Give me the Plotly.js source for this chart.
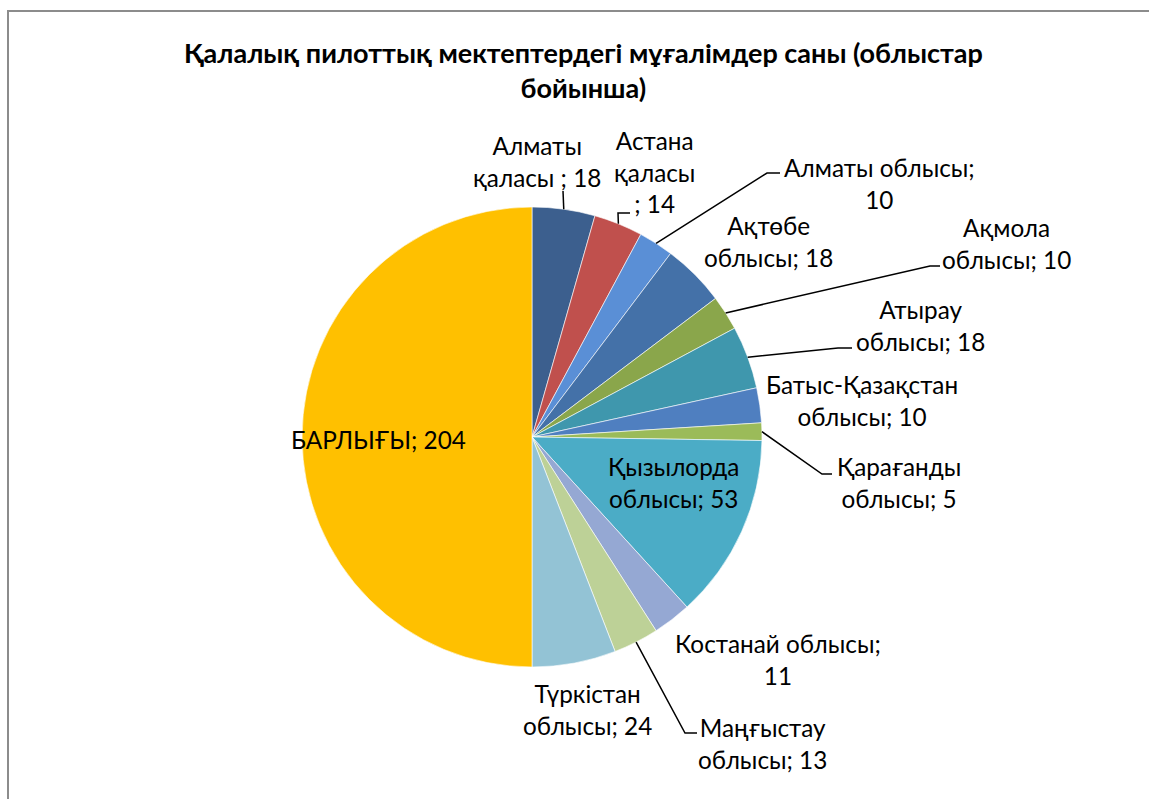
<!DOCTYPE html>
<html>
<head>
<meta charset="utf-8">
<script src="https://cdn.plot.ly/plotly-3.0.1.min.js"></script>
<style>
  html, body { margin: 0; padding: 0; background: #fff; }
  #frame { position: absolute; left: 7px; top: 10px; width: 1142px; height: 789px;
           border-left: 2px solid #8c8c8c; border-top: 2px solid #8c8c8c; }
  #chart { position: absolute; left: 0; top: 0; width: 1149px; height: 799px; }
</style>
</head>
<body>
<div id="frame"></div>
<div id="chart"></div>
<script>
// ---- data ----
const regions = [
  "Алматы қаласы", "Астана қаласы", "Алматы облысы", "Ақтөбе облысы",
  "Ақмола облысы", "Атырау облысы", "Батыс-Қазақстан облысы", "Қарағанды облысы",
  "Қызылорда облысы", "Костанай облысы", "Маңғыстау облысы", "Түркістан облысы",
  "БАРЛЫҒЫ"
];
const teachers = [18, 14, 10, 18, 10, 18, 10, 5, 53, 11, 13, 24, 204];
const labelTexts = [
  "Алматы<br>қаласы ; 18", "Астана<br>қаласы<br>; 14", "Алматы облысы;<br>10",
  "Ақтөбе<br>облысы; 18", "Ақмола<br>облысы; 10", "Атырау<br>облысы; 18",
  "Батыс-Қазақстан<br>облысы; 10", "Қарағанды<br>облысы; 5", "Қызылорда<br>облысы; 53",
  "Костанай облысы;<br>11", "Маңғыстау<br>облысы; 13", "Түркістан<br>облысы; 24",
  "БАРЛЫҒЫ; 204"
];
const sliceColors = [
  "#3C5F8E", "#C0504D", "#5A8FD6", "#4471A8", "#8AA64B", "#3F97AD", "#4F7FC0",
  "#9BBB59", "#4BACC6", "#95A8D3", "#BDD197", "#93C3D5", "#FFC000"
];

// ---- layout helpers (pixel positions) ----
const W = 1149, H = 799;
const cx = 532, cy = 437, R = 230;
const px = x => x / W;
const py = y => 1 - y / H;

const labelPos = [
  {x: 537, y: 161, leader: [[563, 191]]},
  {x: 654, y: 172, leader: [[618, 213], [630, 213]]},
  {x: 879, y: 183, leader: [[767, 173], [780, 173]]},
  {x: 768, y: 242, leader: null},
  {x: 1006, y: 243, leader: [[930, 266], [940, 266]]},
  {x: 920, y: 326, leader: [[838, 348], [852, 348]]},
  {x: 862, y: 401, leader: null},
  {x: 899, y: 482, leader: [[822, 474], [832, 474]]},
  {x: 673, y: 482, leader: null},
  {x: 778, y: 659, leader: null},
  {x: 762, y: 743, leader: [[685, 733], [697, 733]]},
  {x: 587, y: 709, leader: null},
  {x: 378, y: 439, leader: null}
];

const total = teachers.reduce((a, b) => a + b, 0);
let cum = 0;
const annotations = [];
const shapes = [];
const FONT = "Lato, 'Open Sans', sans-serif";
teachers.forEach((v, i) => {
  const mid = (cum + v / 2) / total * 2 * Math.PI;
  cum += v;
  const ex = cx + R * Math.sin(mid), ey = cy - R * Math.cos(mid);
  const lp = labelPos[i];
  if (lp.leader) {
    let path = `M ${px(ex)} ${py(ey)}`;
    lp.leader.forEach(p => { path += ` L ${px(p[0])} ${py(p[1])}`; });
    shapes.push({type: 'path', xref: 'paper', yref: 'paper', path: path,
                 line: {color: '#000', width: 1.5}});
  }
  annotations.push({
    xref: 'paper', yref: 'paper', x: px(lp.x), y: py(lp.y),
    xanchor: 'center', yanchor: 'middle', showarrow: false,
    text: labelTexts[i], align: 'center',
    font: {family: FONT, size: 24.3, color: '#000'}
  });
});

annotations.push({
  xref: 'paper', yref: 'paper', x: px(583), y: py(70),
  xanchor: 'center', yanchor: 'middle', showarrow: false, align: 'center',
  text: "<b>Қалалық пилоттық мектептердегі мұғалімдер саны (облыстар<br>бойынша)</b>",
  font: {family: FONT, size: 27, color: '#000'}
});

const trace = {
  type: 'pie',
  labels: regions,
  values: teachers,
  sort: false,
  direction: 'clockwise',
  rotation: 0,
  textinfo: 'none',
  hoverinfo: 'label+value',
  marker: {colors: sliceColors, line: {color: '#ffffff', width: 0.6}},
  domain: {x: [px(cx - R), px(cx + R)], y: [py(cy + R), py(cy - R)]},
  showlegend: false
};

const layout = {
  width: W, height: H,
  margin: {l: 0, r: 0, t: 0, b: 0},
  paper_bgcolor: 'rgba(0,0,0,0)',
  plot_bgcolor: 'rgba(0,0,0,0)',
  showlegend: false,
  annotations: annotations,
  shapes: shapes
};

Plotly.newPlot('chart', [trace], layout, {displayModeBar: false, staticPlot: true});
</script>
</body>
</html>
